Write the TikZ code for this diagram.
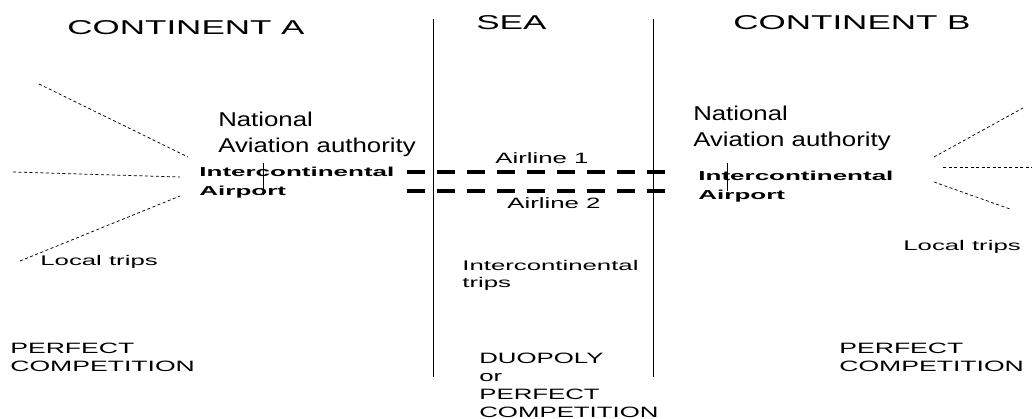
\documentclass[tikz,border=0pt]{standalone}
\usepackage{fontspec}
\setmainfont{Liberation Sans}
\begin{document}
\begin{tikzpicture}[x=1pt, y=-1pt,
  lbl/.style={anchor=north west, inner sep=0pt, align=left, transform shape},
  region/.style={lbl, font=\fontsize{20}{24}\selectfont, xscale=1.75},
  authority/.style={lbl, font=\fontsize{20}{26}\selectfont, xscale=1.29},
  airport/.style={lbl, font=\fontsize{13}{19}\selectfont\bfseries, xscale=2.0},
  smalltxt/.style={lbl, font=\fontsize{15}{18}\selectfont, xscale=1.72},
  tinytxt/.style={lbl, font=\fontsize{14}{17}\selectfont, xscale=1.84},
  border/.style={line width=0.9pt},
  local/.style={line width=0.75pt, dash pattern=on 3pt off 2.5pt},
  route/.style={line width=4pt, dash pattern=on 18pt off 12pt}]
  \useasboundingbox (0,0) rectangle (1032,419);

  % headings
  \node[region] (contA) at (67,20) {CONTINENT A};
  \node[region] (sea) at (476,15) {SEA};
  \node[region] (contB) at (733,15) {CONTINENT B};

  % borders of the sea
  \coordinate (bA1) at (433,19);
  \coordinate (bA2) at (433,377);
  \coordinate (bB1) at (653,19);
  \coordinate (bB2) at (653,377);
  \draw[border] (bA1) -- (bA2);
  \draw[border] (bB1) -- (bB2);

  % continent A
  \node[authority] (natA) at (218,112) {National\\Aviation authority};
  \node[airport] (airA) at (199,167) {Intercontinental\\Airport};
  \coordinate (curA1) at (263,163);
  \coordinate (curA2) at (263,195);
  \draw[border] (curA1) -- (curA2);
  \node[tinytxt] (localA) at (40,255) {Local trips};
  \coordinate (la1) at (39,84);
  \coordinate (la1e) at (188,157);
  \coordinate (la2) at (13,172);
  \coordinate (la2e) at (180,177);
  \coordinate (la3) at (20,261);
  \coordinate (la3e) at (180,196);
  \draw[local] (la1) -- (la1e);
  \draw[local] (la2) -- (la2e);
  \draw[local] (la3) -- (la3e);
  \node[smalltxt, xscale=1.03] (compA) at (10,343) {PERFECT\\COMPETITION};

  % sea
  \node[smalltxt] (line1) at (495,152) {Airline 1};
  \node[smalltxt] (line2) at (507,197) {Airline 2};
  \coordinate (r1s) at (407,172);
  \coordinate (r1e) at (670,172);
  \coordinate (r2s) at (407,191);
  \coordinate (r2e) at (670,191);
  \draw[route] (r1s) -- (r1e);
  \draw[route] (r2s) -- (r2e);
  \node[tinytxt] (trips) at (462,260) {Intercontinental\\trips};
  \node[smalltxt] (compS) at (479,353) {DUOPOLY\\or\\PERFECT\\COMPETITION};

  % continent B
  \node[authority] (natB) at (693,106) {National\\Aviation authority};
  \node[airport] (airB) at (698,171) {Intercontinental\\Airport};
  \coordinate (curB1) at (727,163);
  \coordinate (curB2) at (727,191);
  \draw[border] (curB1) -- (curB2);
  \node[tinytxt] (localB) at (903,240) {Local trips};
  \coordinate (lb1) at (934,157);
  \coordinate (lb1e) at (1023,108);
  \coordinate (lb2) at (943,167);
  \coordinate (lb2e) at (1032,167);
  \coordinate (lb3) at (934,182);
  \coordinate (lb3e) at (1010,209);
  \draw[local] (lb1) -- (lb1e);
  \draw[local] (lb2) -- (lb2e);
  \draw[local] (lb3) -- (lb3e);
  \node[smalltxt, xscale=1.03] (compB) at (839,343) {PERFECT\\COMPETITION};
\end{tikzpicture}
\end{document}
